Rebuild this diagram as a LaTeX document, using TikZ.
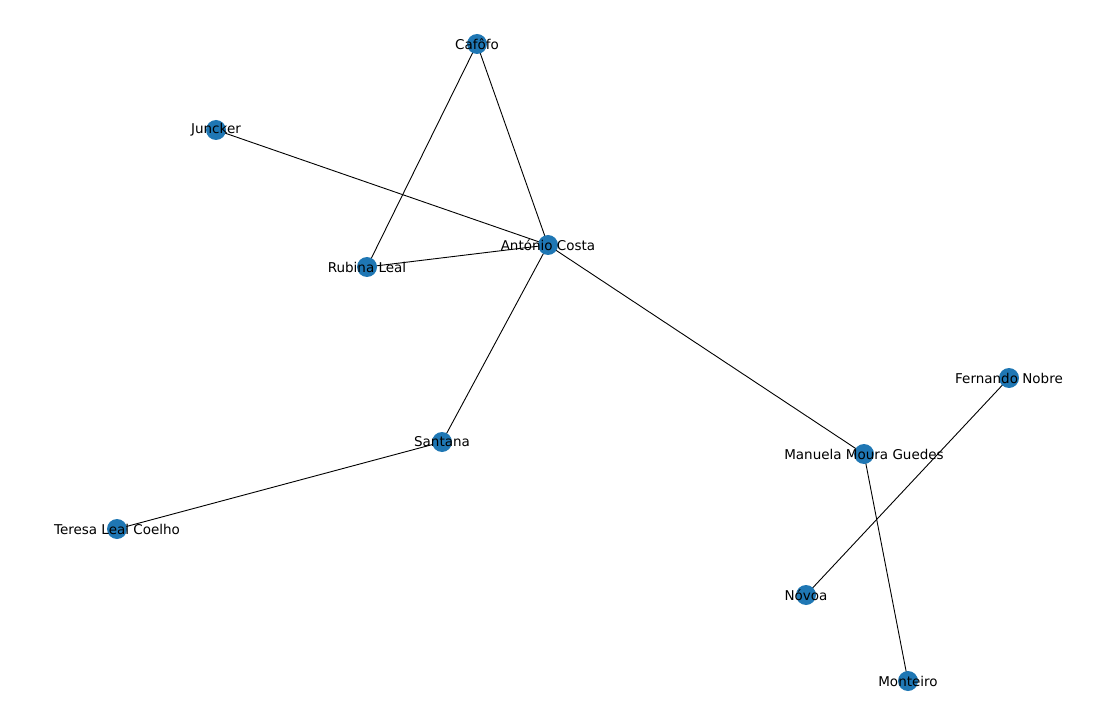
\documentclass[tikz,border=0pt]{standalone}
\usepackage{fontspec}
\setmainfont{DejaVu Sans}
\definecolor{nodeblue}{HTML}{1F77B4}
\begin{document}
\begin{tikzpicture}[x=1pt,y=-1pt,
  dot/.style={circle,fill=nodeblue,inner sep=0pt,minimum size=20pt},
  lbl/.style={font=\fontsize{13.5}{15}\selectfont,inner sep=0pt},
  edge/.style={draw=black,line width=0.9pt}]
\useasboundingbox (0,0) rectangle (1100,711);
\foreach \n/\x/\y in {caf/477/44,jun/216/130,cos/548/245,rub/367/267,fer/1009/378,san/442/442,man/864/454,ter/117/529,nov/806/595,mon/908/681}
  \coordinate (\n) at (\x,\y);
\draw[edge] (caf) -- (rub);
\draw[edge] (caf) -- (cos);
\draw[edge] (jun) -- (cos);
\draw[edge] (rub) -- (cos);
\draw[edge] (cos) -- (san);
\draw[edge] (cos) -- (man);
\draw[edge] (san) -- (ter);
\draw[edge] (fer) -- (nov);
\draw[edge] (man) -- (mon);
\foreach \n in {caf,jun,cos,rub,fer,san,man,ter,nov,mon}
  \node[dot] (d\n) at (\n) {};
\node[lbl] (tcaf) at (caf) {Cafôfo};
\node[lbl] (tjun) at (jun) {Juncker};
\node[lbl] (tcos) at (cos) {António Costa};
\node[lbl] (trub) at (rub) {Rubina Leal};
\node[lbl] (tfer) at (fer) {Fernando Nobre};
\node[lbl] (tsan) at (san) {Santana};
\node[lbl] (tman) at (man) {Manuela Moura Guedes};
\node[lbl] (tter) at (ter) {Teresa Leal Coelho};
\node[lbl] (tnov) at (nov) {Nóvoa};
\node[lbl] (tmon) at (mon) {Monteiro};
\end{tikzpicture}
\end{document}
